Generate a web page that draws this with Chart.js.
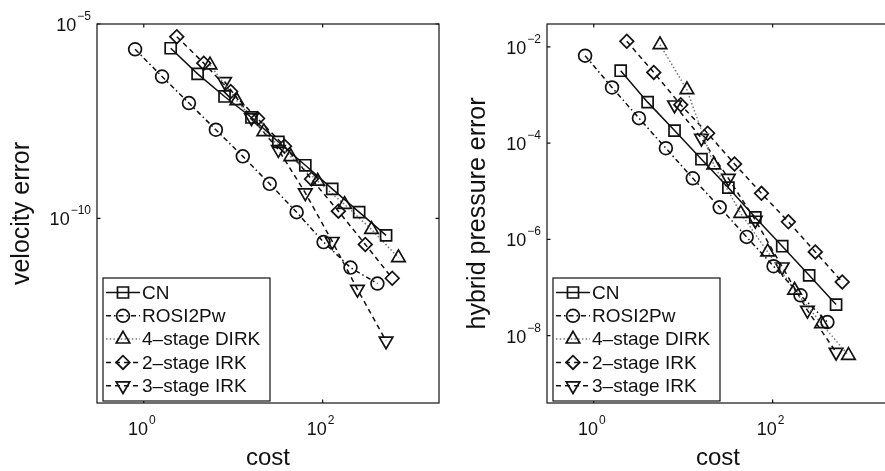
<!DOCTYPE html>
<html>
<head>
<meta charset="utf-8">
<script src="https://cdn.jsdelivr.net/npm/chart.js@4/dist/chart.umd.min.js"></script>
<style>
  html, body { margin: 0; padding: 0; background: #fff; overflow: hidden; }
  #wrap { position: relative; width: 885px; height: 471px; overflow: hidden; }
  canvas { position: absolute; top: 0; }
  #velocity { left: 0; }
  #pressure { left: 450px; }
</style>
</head>
<body>
<div id="wrap">
  <canvas id="velocity" width="450" height="471"></canvas>
  <canvas id="pressure" width="450" height="471"></canvas>
</div>
<script>
// cost per method (same for both error measures)
const cnCost   = [2, 4, 8, 16, 32, 64, 128, 256, 512];
const rosiCost = [0.8, 1.6, 3.2, 6.4, 12.8, 25.6, 51.2, 102.4, 204.8, 409.6];
const dirkCost = [5.5, 11, 22, 44, 88, 176, 352, 704];
const irk2Cost = [2.34, 4.69, 9.38, 18.75, 37.5, 75, 150, 300, 600];
const irk3Cost = [8, 16, 32, 64, 128, 245, 512];

// velocity error
const cnVel   = [2.38e-6, 5.22e-7, 1.37e-7, 3.95e-8, 9.27e-9, 2.33e-9, 5.78e-10, 1.45e-10, 3.66e-11];
const rosiVel = [2.24e-6, 4.46e-7, 9.27e-8, 1.91e-8, 3.95e-9, 7.76e-10, 1.45e-10, 2.47e-11, 5.45e-12, 2.12e-12];
const dirkVel = [8.89e-7, 1.06e-7, 1.70e-8, 3.89e-9, 9.04e-10, 2.29e-10, 5.22e-11, 9.8e-12];
const irk2Vel = [4.72e-6, 9.82e-7, 1.84e-7, 3.72e-8, 7.23e-9, 1.03e-9, 1.54e-10, 2.15e-11, 2.9e-12];
const irk3Vel = [3.32e-7, 3.89e-8, 5.89e-9, 4.56e-10, 2.57e-11, 1.51e-12, 7.08e-14];

// hybrid pressure error
const cnPres   = [3.21e-3, 7.14e-4, 1.83e-4, 4.65e-5, 1.19e-5, 2.87e-6, 7.24e-7, 1.80e-7, 4.43e-8];
const rosiPres = [6.59e-3, 1.44e-3, 3.32e-4, 7.87e-5, 1.87e-5, 4.65e-6, 1.13e-6, 2.78e-7, 6.92e-8, 1.92e-8];
const dirkPres = [1.117e-2, 1.29e-3, 3.53e-5, 3.48e-6, 5.52e-7, 8.79e-8, 1.78e-8, 3.89e-9];
const irk2Pres = [1.31e-2, 2.96e-3, 6.28e-4, 1.61e-4, 3.71e-5, 9.08e-6, 2.33e-6, 5.52e-7, 1.31e-7];
const irk3Pres = [6.25e-4, 1.27e-4, 1.87e-5, 2.52e-6, 2.69e-7, 3.37e-8, 4.55e-9];

const methodNames = ['CN', 'ROSI2Pw', '4\u2013stage DIRK', '2\u2013stage IRK', '3\u2013stage IRK'];

// axis limits and tick positions
const costRange = [0.3, 2000];
const costTicks = [1, 100];
const velRange = [1.8e-15, 1e-5];
const velTicks = [1e-10, 1e-5];
const presRange = [4e-10, 3e-2];
const presTicks = [1e-8, 1e-6, 1e-4, 1e-2];

const FONT = "'Liberation Sans', Arial, Helvetica, sans-serif";
const INK = '#111';

// line/marker look for each method, in legend order
const styles = [
  { pointStyle: 'rect', radius: 7.8, rotation: 0, dash: [], line: INK },
  { pointStyle: 'circle', radius: 6.4, rotation: 0, dash: [5, 3, 1.5, 3], line: INK },
  { pointStyle: 'triangle', radius: 7.8, rotation: 0, dash: [1.5, 2.2], line: '#777' },
  { pointStyle: 'rectRot', radius: 6.8, rotation: 0, dash: [5, 4], line: INK },
  { pointStyle: 'triangle', radius: 7.8, rotation: 180, dash: [5, 4], line: INK },
];

function zip(xs, ys) {
  return xs.map((x, i) => ({ x: x, y: ys[i] }));
}

function makeDatasets(costs, errors) {
  return errors.map((err, i) => {
    const s = styles[i];
    return {
      label: methodNames[i],
      data: zip(costs[i], err),
      borderColor: s.line,
      borderWidth: 1.5,
      borderDash: s.dash,
      pointStyle: s.pointStyle,
      pointRadius: s.radius,
      pointRotation: s.rotation,
      pointBorderColor: INK,
      pointBackgroundColor: 'rgba(0,0,0,0)',
      pointBorderWidth: 1.7,
      fill: false,
      tension: 0,
      clip: false,
    };
  });
}

// "10" with a raised exponent, the way the axes label decades
function drawPower(ctx, value, x, y, align) {
  const exp = Math.round(Math.log10(value));
  const expText = (exp < 0 ? '\u2212' : '') + Math.abs(exp);
  ctx.font = '18px ' + FONT;
  const w1 = ctx.measureText('10').width;
  ctx.font = '12px ' + FONT;
  const w2 = ctx.measureText(expText).width;
  const total = w1 + w2 + 1;
  let x0 = align === 'right' ? x - total : x - total / 2;
  ctx.fillStyle = INK;
  ctx.textAlign = 'left';
  ctx.textBaseline = 'alphabetic';
  ctx.font = '18px ' + FONT;
  ctx.fillText('10', x0, y);
  ctx.font = '12px ' + FONT;
  ctx.fillText(expText, x0 + w1 + 1, y - 11);
}

function drawMarker(ctx, s, x, y) {
  ctx.save();
  ctx.strokeStyle = INK;
  ctx.fillStyle = 'rgba(0,0,0,0)';
  ctx.lineWidth = 1.7;
  ctx.setLineDash([]);
  Chart.helpers.drawPoint(ctx, {
    pointStyle: s.pointStyle,
    radius: s.radius,
    rotation: s.rotation,
    borderWidth: 1.7,
  }, x, y);
  ctx.restore();
}

const matlabAxes = {
  id: 'matlabAxes',
  afterDraw(chart) {
    const ctx = chart.ctx;
    const a = chart.chartArea;
    const xs = chart.scales.x;
    const ys = chart.scales.y;
    ctx.save();

    // box around the axes
    ctx.strokeStyle = INK;
    ctx.lineWidth = 1.2;
    ctx.setLineDash([]);
    ctx.strokeRect(a.left, a.top, a.right - a.left, a.bottom - a.top);

    // short inward tick marks on all four sides
    const tl = 3.5;
    ctx.beginPath();
    xs.ticks.forEach(t => {
      const px = xs.getPixelForValue(t.value);
      ctx.moveTo(px, a.bottom); ctx.lineTo(px, a.bottom - tl);
      ctx.moveTo(px, a.top); ctx.lineTo(px, a.top + tl);
    });
    ys.ticks.forEach(t => {
      const py = ys.getPixelForValue(t.value);
      ctx.moveTo(a.left, py); ctx.lineTo(a.left + tl, py);
      ctx.moveTo(a.right, py); ctx.lineTo(a.right - tl, py);
    });
    ctx.stroke();

    // decade labels
    xs.ticks.forEach(t => drawPower(ctx, t.value, xs.getPixelForValue(t.value) - 2, 435, 'center'));
    ys.ticks.forEach(t => drawPower(ctx, t.value, a.left - 6, ys.getPixelForValue(t.value) + 7, 'right'));

    // legend, lower left corner
    const bw = 167, bh = 123;
    const bx = a.left + 6;
    const by = a.bottom - 2 - bh;
    ctx.fillStyle = '#fff';
    ctx.fillRect(bx, by, bw, bh);
    ctx.strokeStyle = INK;
    ctx.lineWidth = 1.2;
    ctx.strokeRect(bx, by, bw, bh);
    chart.data.datasets.forEach((ds, i) => {
      const s = styles[i];
      const ry = by + 14.5 + i * 23.3;
      ctx.save();
      ctx.strokeStyle = s.line;
      ctx.lineWidth = 1.5;
      ctx.setLineDash(s.dash);
      ctx.beginPath();
      ctx.moveTo(bx + 3, ry);
      ctx.lineTo(bx + 37, ry);
      ctx.stroke();
      ctx.restore();
      drawMarker(ctx, s, bx + 20, ry);
      ctx.fillStyle = INK;
      ctx.font = '19px ' + FONT;
      ctx.textAlign = 'left';
      ctx.textBaseline = 'middle';
      ctx.fillText(ds.label, bx + 39, ry + 1);
    });
    ctx.restore();
  }
};

function makeChart(id, errors, yRange, yTicks, yTitle, titlePad) {
  const costs = [cnCost, rosiCost, dirkCost, irk2Cost, irk3Cost];
  return new Chart(document.getElementById(id), {
    type: 'line',
    data: { datasets: makeDatasets(costs, errors) },
    plugins: [matlabAxes],
    options: {
      responsive: false,
      animation: false,
      devicePixelRatio: 1,
      layout: { padding: { top: 24, right: 11, left: 0, bottom: 0 } },
      plugins: { legend: { display: false }, tooltip: { enabled: false } },
      scales: {
        x: {
          type: 'logarithmic',
          min: costRange[0],
          max: costRange[1],
          afterBuildTicks: s => { s.ticks = costTicks.map(v => ({ value: v })); },
          afterFit: s => { s.height = 68; },
          ticks: { display: false },
          grid: { display: false },
          border: { display: false },
          title: { display: true, text: 'cost', color: INK, font: { family: FONT, size: 24 }, padding: { top: 0, bottom: -2 } },
        },
        y: {
          type: 'logarithmic',
          min: yRange[0],
          max: yRange[1],
          afterBuildTicks: s => { s.ticks = yTicks.map(v => ({ value: v })); },
          afterFit: s => { s.width = 97; },
          ticks: { display: false },
          grid: { display: false },
          border: { display: false },
          title: { display: true, text: yTitle, color: INK, font: { family: FONT, size: 25 }, padding: { top: titlePad, bottom: 0 } },
        },
      },
    },
  });
}

makeChart('velocity', [cnVel, rosiVel, dirkVel, irk2Vel, irk3Vel], velRange, velTicks, 'velocity error', 7);
makeChart('pressure', [cnPres, rosiPres, dirkPres, irk2Pres, irk3Pres], presRange, presTicks, 'hybrid pressure error', 13);
</script>
</body>
</html>
